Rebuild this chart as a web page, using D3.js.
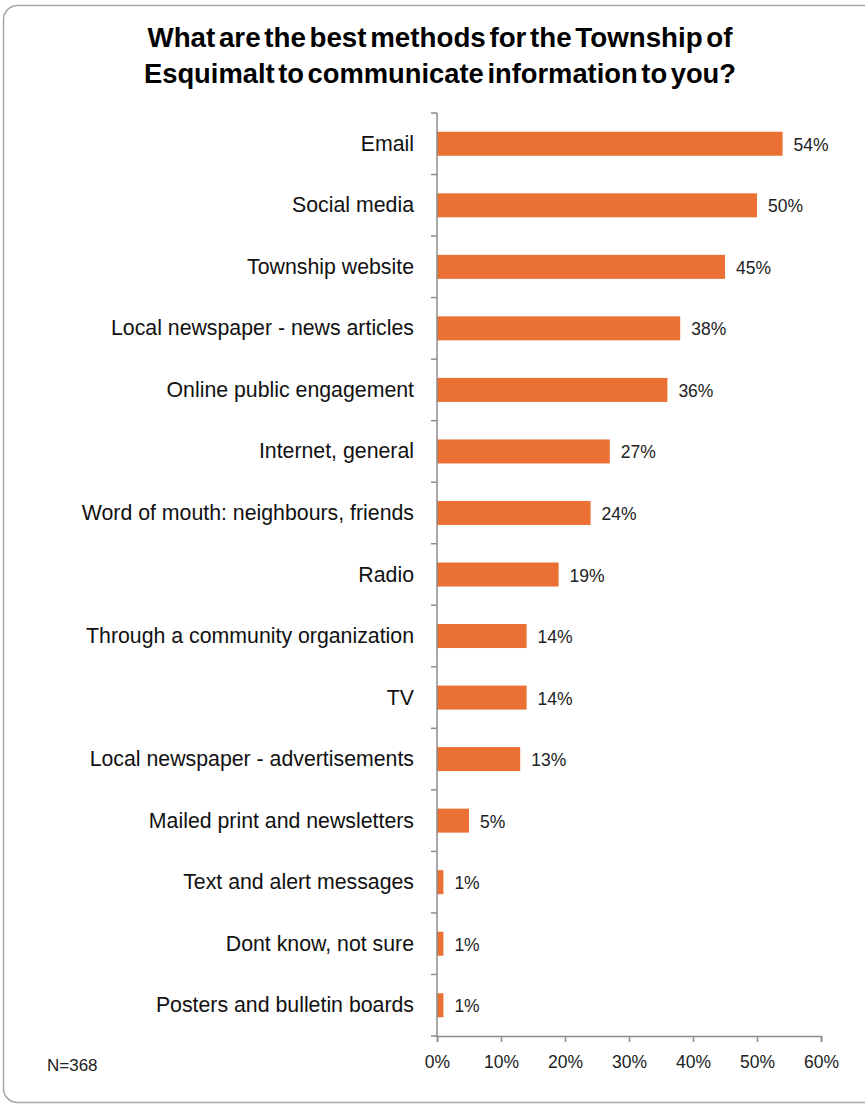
<!DOCTYPE html>
<html><head><meta charset="utf-8">
<script src="https://cdn.jsdelivr.net/npm/d3@7"></script>
<style>body{margin:0;background:#fff}</style>
</head><body>
<svg id="c" width="865" height="1107"></svg>
<script>
const categories = ["Email","Social media","Township website","Local newspaper - news articles","Online public engagement","Internet, general","Word of mouth: neighbours, friends","Radio","Through a community organization","TV","Local newspaper - advertisements","Mailed print and newsletters","Text and alert messages","Dont know, not sure","Posters and bulletin boards"];
const values = [54,50,45,38,36,27,24,19,14,14,13,5,1,1,1];
const xTicks = [0,10,20,30,40,50,60];
const titleLines = ["What are the best methods for the Township of","Esquimalt to communicate information to you?"];
const note = "N=368";

(function(){
const svg = d3.select("#c");
svg.append("rect").attr("x",3.5).attr("y",5.5).attr("width",880).attr("height",1097).attr("rx",14)
  .attr("fill","#fff").attr("stroke","#a6a6a6").attr("stroke-width",1.5);

const L = 437, R = 821, T = 113, B = 1036;
const x = d3.scaleLinear().domain([0,60]).range([L,R]);
const y = d3.scaleBand().domain(categories).range([T,B]).paddingInner(0.61).paddingOuter(0.305);
const band = d3.scaleBand().domain(categories).range([T,B]);

const titleW = [585, 592];
svg.selectAll(".t").data(titleLines).enter().append("text")
  .attr("x",440).attr("y",(d,i)=>47+i*36).attr("text-anchor","middle")
  .attr("font-family","'Liberation Sans',Arial,sans-serif")
  .attr("font-weight","bold").attr("font-size",27.5).attr("word-spacing",-4)
  .attr("textLength",(d,i)=>titleW[i]).attr("lengthAdjust","spacingAndGlyphs")
  .attr("fill","#000").text(d=>d);

svg.selectAll(".bar").data(values).enter().append("rect")
  .attr("x",x(0)).attr("y",(d,i)=>y(categories[i])).attr("width",d=>x(d)-x(0)).attr("height",y.bandwidth())
  .attr("fill","#ea7133");

svg.selectAll(".vl").data(values).enter().append("text")
  .attr("x",d=>x(d)+11).attr("y",(d,i)=>y(categories[i])+y.bandwidth()/2+7)
  .attr("font-family","'Liberation Sans',Arial,sans-serif").attr("font-size",17.5).attr("fill","#222")
  .text(d=>d+"%");

svg.selectAll(".cl").data(categories).enter().append("text")
  .attr("x",414).attr("y",d=>band(d)+band.bandwidth()/2+7)
  .attr("text-anchor","end").attr("font-family","'Liberation Sans',Arial,sans-serif").attr("font-size",21.3).attr("fill","#111")
  .text(d=>d);

const axCol = "#8c8c8c";
svg.append("line").attr("x1",L).attr("x2",L).attr("y1",T).attr("y2",B).attr("stroke",axCol).attr("stroke-width",1.5);
const bounds = categories.map(c=>band(c)).concat([B]);
svg.selectAll(".yt").data(bounds).enter().append("line")
  .attr("x1",L-6).attr("x2",L).attr("y1",d=>d).attr("y2",d=>d).attr("stroke",axCol).attr("stroke-width",1.5);

const gx = svg.append("g").attr("transform",`translate(0,${B})`)
  .call(d3.axisBottom(x).tickValues(xTicks).tickFormat(d=>d+"%").tickSize(6).tickPadding(14));
gx.select(".domain").attr("stroke",axCol).attr("stroke-width",1.5);
gx.selectAll(".tick line").attr("stroke",axCol).attr("stroke-width",1.5);
gx.selectAll("text").attr("font-family","'Liberation Sans',Arial,sans-serif").attr("font-size",17.5).attr("fill","#222");

svg.append("text").attr("x",47).attr("y",1071).attr("font-family","'Liberation Sans',Arial,sans-serif")
  .attr("font-size",17).attr("fill","#222").text(note);
})();
</script>
</body></html>
